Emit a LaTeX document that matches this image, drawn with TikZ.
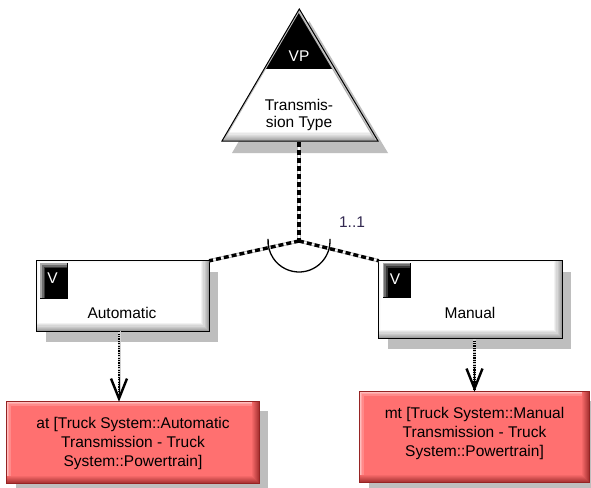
\documentclass[tikz,border=0pt]{standalone}
\usepackage{fontspec}
\setmainfont{Liberation Sans}
\usetikzlibrary{arrows.meta,calc,shadows}
\definecolor{redfill}{RGB}{255,112,112}
\definecolor{redline}{RGB}{150,35,35}
\definecolor{reddark}{RGB}{175,55,55}
\definecolor{redlight}{RGB}{255,190,190}
\definecolor{shadowgray}{RGB}{190,190,190}
\definecolor{cardtxt}{RGB}{50,40,80}
% #1 node, #2 inner colour, #3 dark colour, #4 light colour, #5 dark width, #6 light width, #7 outline options
\newcommand\bevelfill[7]{%
 \colorlet{bvin}{#2}\colorlet{bvdark}{#3}\colorlet{bvlight}{#4}%
 \foreach \k in {0,...,7}{%
   \pgfmathtruncatemacro\pc{100-\k*100/7}%
   \pgfmathsetmacro\sh{\k*#5/7}%
   \fill[bvdark!\pc!bvin] (#1.north west) rectangle ([shift={(-\sh,-\sh)}]#1.south east);
 }%
 \foreach \j in {0,...,3}{%
   \pgfmathtruncatemacro\pl{100-\j*100/3}%
   \pgfmathsetmacro\sl{\j*#6/3}%
   \fill[bvlight!\pl!bvin] ([shift={(\sl,\sl)}]#1.north west) rectangle ([shift={(-#5,-#5)}]#1.south east);
 }%
 \draw[#7, line width=1pt] (#1.north west) rectangle (#1.south east);
}
\tikzset{
  txt/.style={font=\fontsize{15.5}{19}\selectfont, text=black, inner sep=0pt, align=center},
  wbox/.style={fill=white, inner sep=0pt, drop shadow={shadow xshift=9pt, shadow yshift=-11pt, fill=shadowgray, opacity=1}},
  rbox/.style={fill=redfill, inner sep=0pt, drop shadow={shadow xshift=9pt, shadow yshift=-9pt, fill=shadowgray, opacity=1}},
  vsq/.style={fill=black, inner sep=0pt},
  vtxt/.style={text=white, inner sep=0pt, font=\fontsize{15.5}{19}\selectfont},
  dashunder/.style={draw=gray!55, line width=3.4pt},
  dashwhite/.style={draw=white, line width=1.6pt},
  dashconn/.style={draw=black, line width=3.4pt, dash pattern=on 5pt off 3pt},
  dotunder/.style={draw=gray!35, line width=3pt},
  dotconn/.style={draw=black, line width=2.6pt, dash pattern=on 1.2pt off 1.2pt},
  vtip/.style={-{Straight Barb[length=20pt,width=16pt,line width=2.4pt]}, line width=0.2pt, draw=black}
}
\begin{document}
\begin{tikzpicture}[x=1pt,y=-1pt]
\useasboundingbox (0,0) rectangle (591,487);
\fill[white] (0,0) rectangle (591,487);
% triangle
\coordinate (apex) at (299.3,9);
\coordinate (bl) at (222,141);
\coordinate (br) at (378,141);
\fill[shadowgray] ([shift={(10,12)}]apex) -- ([shift={(10,12)}]bl) -- ([shift={(10,12)}]br) -- cycle;
\fill[white] (apex) -- (bl) -- (br) -- cycle;
\begin{scope}
  \clip (apex) -- (bl) -- (br) -- cycle;
  \fill[black] (200,0) rectangle (400,69);
  \foreach \k in {0,...,8}{%
    \pgfmathtruncatemacro\pc{\k*75/8}%
    \fill[gray!\pc] (200,131+\k*1.2) rectangle (400,141);
  }
  \draw[gray!55, line width=3pt] (apex) -- (bl);
  \draw[gray!45, line width=2pt] (apex) -- (bl);
  \draw[gray!65, line width=5pt] (apex) -- (br);
  \draw[gray!40, line width=3pt] (apex) -- (br);
\end{scope}
\draw[line width=1pt, line join=miter] (apex) -- (bl) -- (br) -- cycle;
\node[vtxt] (vp) at (299,56) {VP};
\node[txt, font=\fontsize{15.5}{17.5}\selectfont] (tt) at (299,115) {Transmis-\\sion Type};
\coordinate (tribase) at (299,142);
\coordinate (junc) at (299,241);
% variant boxes
\node[wbox, minimum width=172pt, minimum height=70pt] (auto) at (123,296) {};
\node[wbox, minimum width=183pt, minimum height=77pt] (man) at (470.5,299.5) {};
\bevelfill{auto}{white}{gray!75}{gray!10}{8}{2}{draw=black}
\bevelfill{man}{white}{gray!75}{gray!10}{8}{2}{draw=black}
\node[vsq, minimum width=27pt, minimum height=35pt] (autov) at (54,281) {};
\node[vsq, minimum width=28pt, minimum height=35pt] (manv) at (397,280.5) {};
\bevelfill{autov}{black}{black}{gray!70}{1}{5}{draw=none}
\bevelfill{manv}{black}{black}{gray!70}{1}{5}{draw=none}
\node[vtxt] (autovt) at (52.5,278) {V};
\node[vtxt] (manvt) at (395,279.5) {V};
\node[txt] (autolbl) at (122,313) {Automatic};
\node[txt] (manlbl) at (470,313) {Manual};
% red boxes
\node[rbox, minimum width=252pt, minimum height=81pt] (red1) at (133,442.5) {};
\node[rbox, minimum width=229pt, minimum height=90pt] (red2) at (474.5,437) {};
\bevelfill{red1}{redfill}{reddark}{redlight}{7}{4}{draw=redline}
\bevelfill{red2}{redfill}{reddark}{redlight}{7}{4}{draw=redline}
\node[txt] (red1txt) at (133,443) {at [Truck System::Automatic\\Transmission - Truck\\System::Powertrain]};
\node[txt] (red2txt) at (474.5,433) {mt [Truck System::Manual\\Transmission - Truck\\System::Powertrain]};
% dashed connectors
\foreach \s in {dashunder,dashwhite,dashconn}{
  \draw[\s] (tribase) -- (junc);
  \draw[\s] (junc) -- (auto.north east);
  \draw[\s] (junc) -- (man.north west);
}
\draw[line width=1.3pt] ([shift={(-4:31)}]junc) arc[start angle=-4, end angle=184, radius=31];
\node[txt, text=cardtxt] (card) at (352,222) {1..1};
% dotted arrows
\draw[dotunder] ([xshift=-4pt]auto.south) -- ([xshift=-4pt,yshift=6pt]auto.south |- red1.north);
\draw[dotconn] ([xshift=-4pt]auto.south) -- ([xshift=-4pt,yshift=3pt]auto.south |- red1.north);
\draw[vtip] ([xshift=-4pt,yshift=24pt]auto.south |- red1.north) -- ([xshift=-4pt]auto.south |- red1.north);
\draw[dotunder] ([xshift=4pt]man.south) -- ([yshift=6pt]red2.north);
\draw[dotconn] ([xshift=4pt]man.south) -- ([yshift=3pt]red2.north);
\draw[vtip] ([yshift=24pt]red2.north) -- (red2.north);
\end{tikzpicture}
\end{document}
